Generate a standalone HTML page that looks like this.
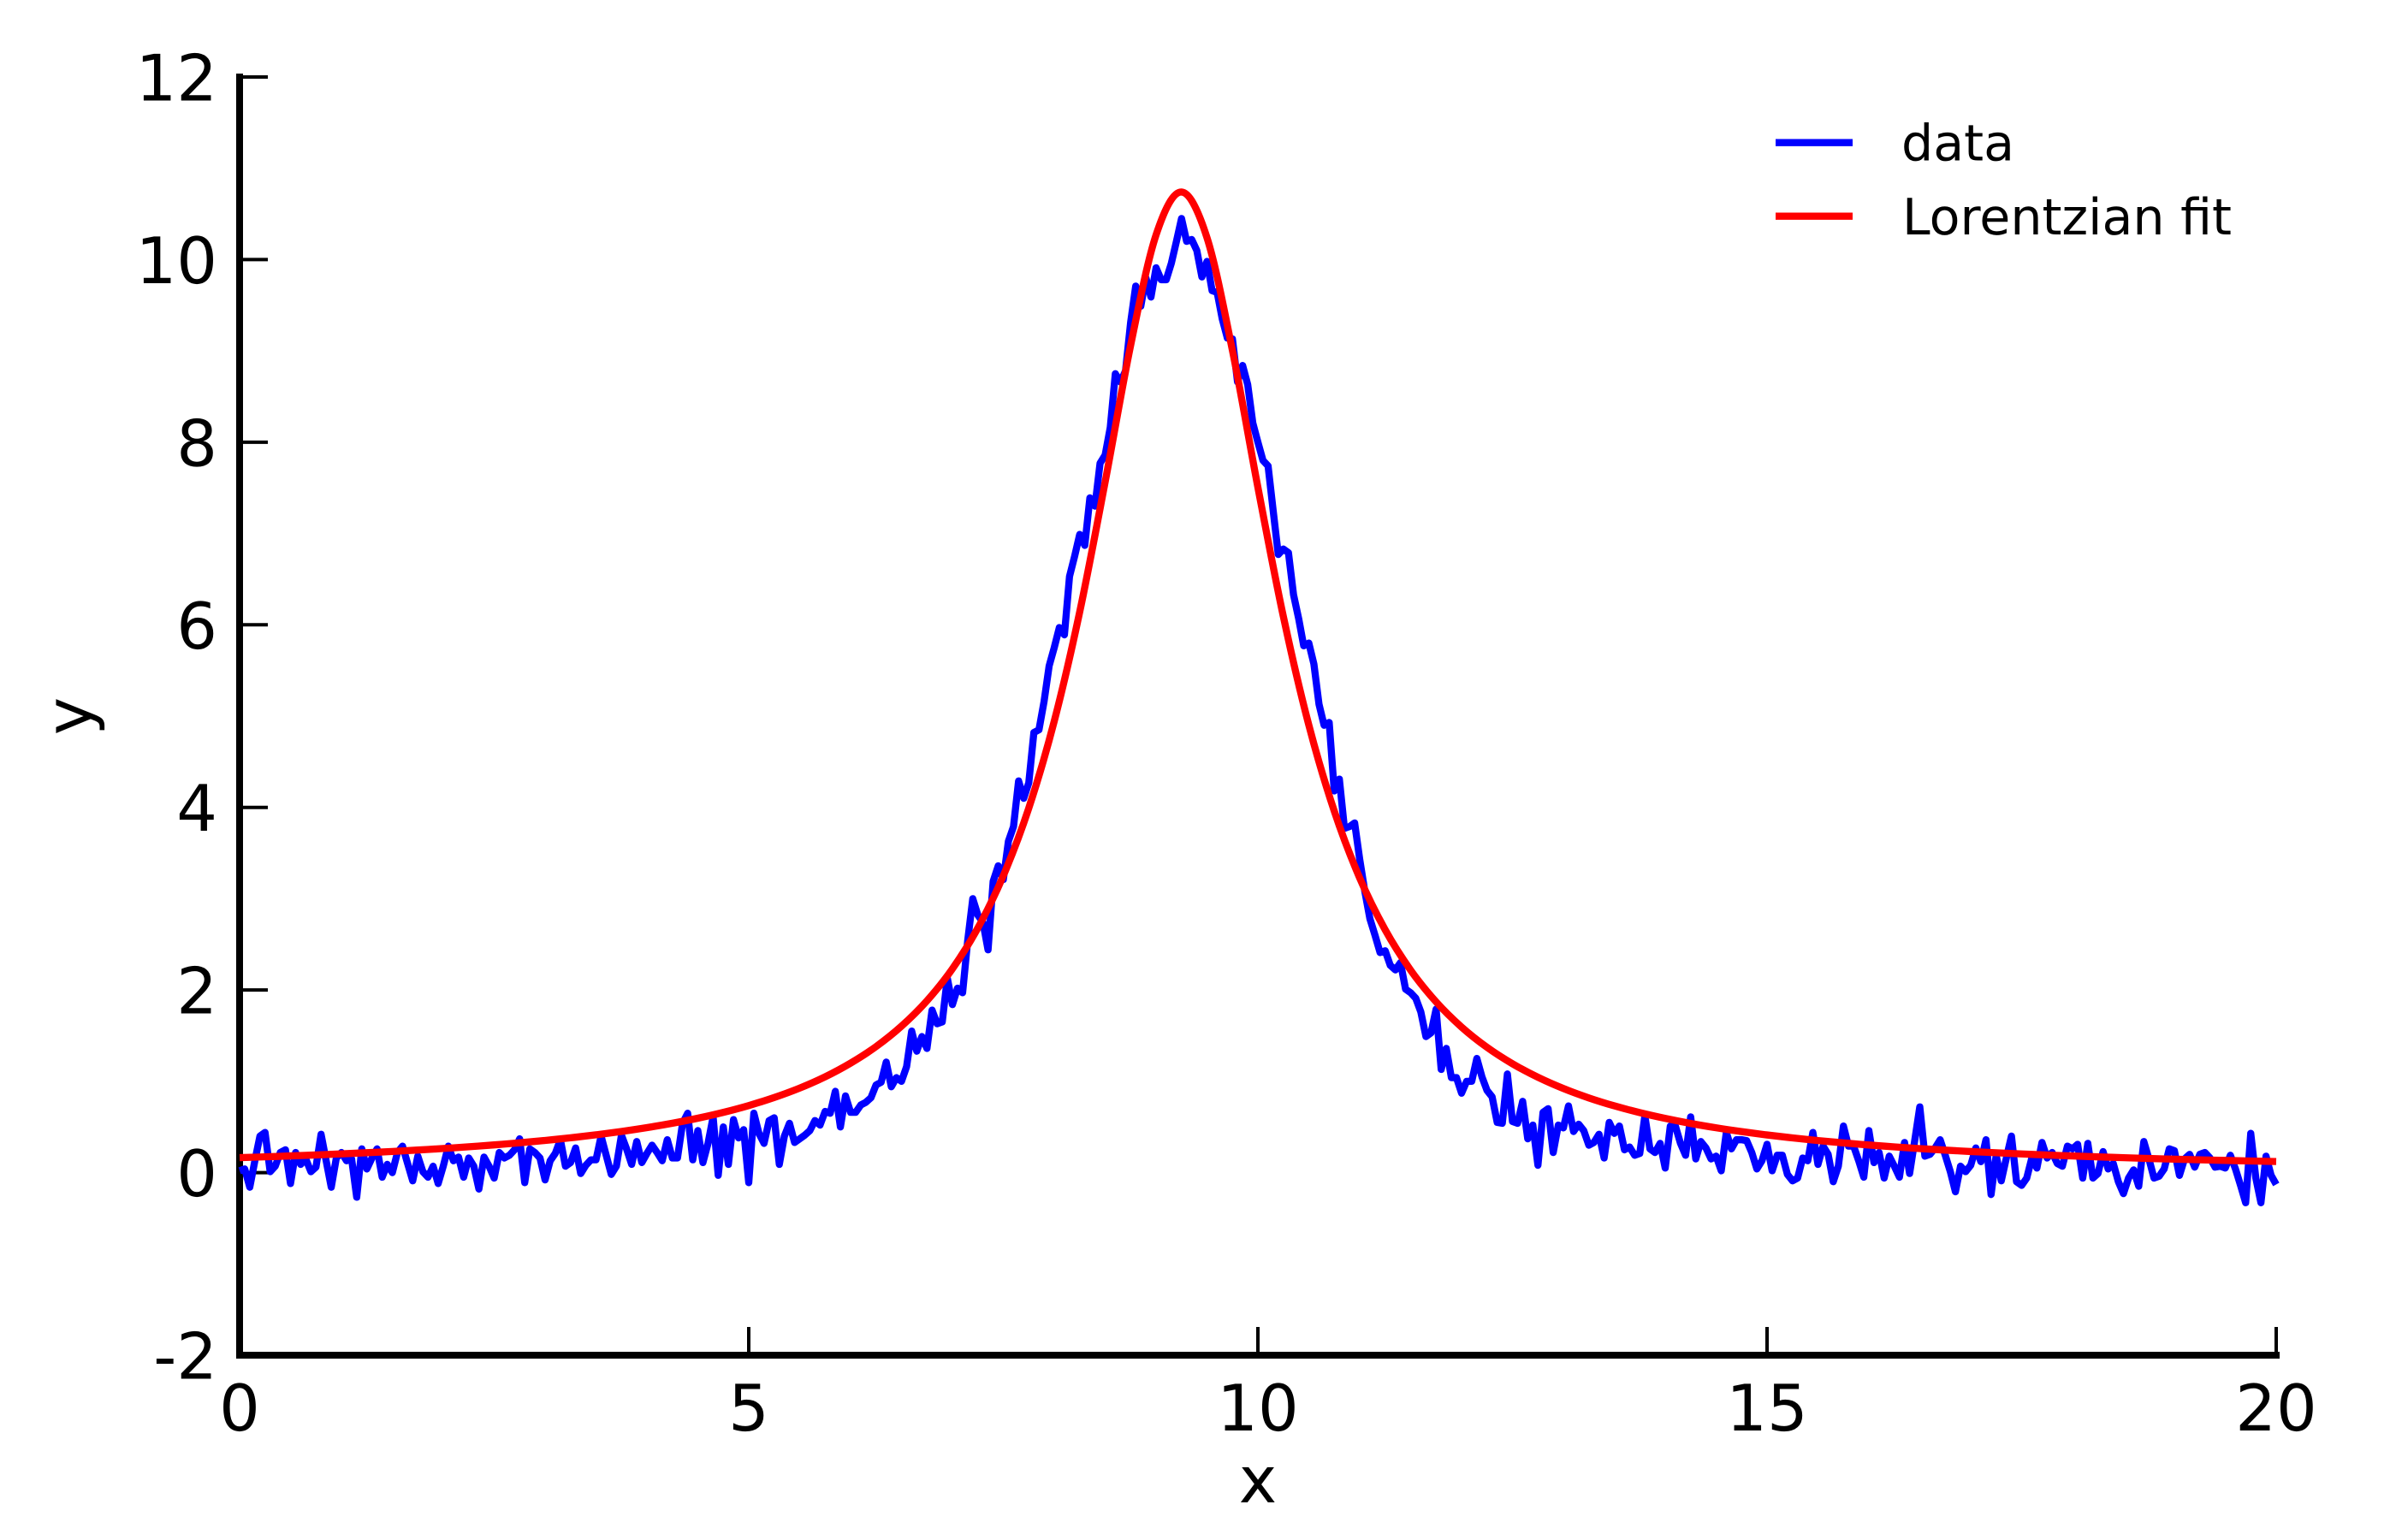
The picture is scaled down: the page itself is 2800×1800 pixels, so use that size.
<!DOCTYPE html>
<html lang="en">
<head>
<meta charset="utf-8">
<title>Lorentzian fit</title>
<style>
  html, body { margin: 0; padding: 0; background: #fff; width: 2800px; height: 1800px; overflow: hidden; }
  svg { display: block; font-family: "DejaVu Sans", "Liberation Sans", sans-serif; text-rendering: geometricPrecision; }
</style>
</head>
<body>
<svg id="chart" xmlns="http://www.w3.org/2000/svg" width="2800" height="1800" viewBox="0 0 2800 1800">
  <rect x="0" y="0" width="2800" height="1800" fill="#ffffff"/>
  <g id="ticks"></g>
  <g id="spines">
    <line x1="280" y1="86" x2="280" y2="1588" stroke="#000" stroke-width="8"/>
    <line x1="276" y1="1584" x2="2664" y2="1584" stroke="#000" stroke-width="8"/>
  </g>
  <path id="data-line" fill="none" stroke="#0000ff" stroke-width="8.33" stroke-linejoin="round" stroke-linecap="butt"/>
  <path id="fit-line" fill="none" stroke="#ff0000" stroke-width="8.33" stroke-linejoin="round" stroke-linecap="butt"/>
  <g id="tick-labels" font-size="75" fill="#000"></g>
  <text x="1470" y="1756" font-size="75" text-anchor="middle" fill="#000">x</text>
  <text transform="translate(106.5,837) rotate(-90)" font-size="75" text-anchor="middle" fill="#000">y</text>
  <g>
    <g>
      <line x1="2075" y1="166.7" x2="2165" y2="166.7" stroke="#0000ff" stroke-width="8.33"/>
      <text x="2222" y="187.7" font-size="58.6" fill="#000">data</text>
    </g>
    <g>
      <line x1="2075" y1="252.7" x2="2165" y2="252.7" stroke="#ff0000" stroke-width="8.33"/>
      <text x="2223" y="274" font-size="58.6" fill="#000">Lorentzian fit</text>
    </g>
  </g>
</svg>
<script>
const xTickValues = [0, 5, 10, 15, 20];
const xTickLabels = ["0", "5", "10", "15", "20"];
const yTickValues = [-2, 0, 2, 4, 6, 8, 10, 12];
const yTickLabels = ["-2", "0", "2", "4", "6", "8", "10", "12"];

const dataStepX = 0.05;
const dataValues = [
  .02,.04,-.16,.13,.40,.44,.01,.07,.22,.25,
  -.12,.22,.09,.15,.01,.06,.42,.13,-.16,.16,
  .22,.13,.15,-.27,.26,.04,.16,.26,-.05,.09,
  0,.22,.29,.10,-.09,.18,.01,-.05,.07,-.12,
  .07,.29,.13,.17,-.05,.16,.07,-.18,.17,.07,
  -.06,.22,.16,.19,.25,.37,-.11,.26,.22,.16,
  -.08,.13,.21,.36,.07,.11,.27,-.01,.08,.14,
  .14,.40,.19,-.02,.07,.41,.26,.09,.34,.11,
  .21,.30,.22,.13,.36,.16,.16,.54,.65,.14,
  .46,.11,.32,.61,-.03,.50,.09,.58,.38,.47,
  -.11,.65,.43,.32,.57,.60,.09,.40,.54,.33,
  .37,.41,.46,.57,.52,.67,.65,.89,.50,.84,
  .66,.66,.74,.77,.82,.96,.99,1.21,.94,1.04,
  1.0,1.16,1.55,1.33,1.49,1.36,1.78,1.63,1.65,2.13,
  1.84,2.02,1.97,2.54,3.0,2.82,2.74,2.44,3.19,3.36,
  3.21,3.63,3.79,4.29,4.10,4.27,4.82,4.85,5.16,5.55,
  5.75,5.97,5.89,6.53,6.75,6.99,6.87,7.39,7.30,7.77,
  7.86,8.16,8.75,8.66,8.78,9.31,9.71,9.49,9.80,9.59,
  9.91,9.78,9.78,9.96,10.2,10.45,10.2,10.22,10.1,9.81,
  9.98,9.66,9.64,9.35,9.14,9.13,8.66,8.84,8.63,8.21,
  8.0,7.80,7.74,7.25,6.77,6.83,6.79,6.33,6.07,5.77,
  5.80,5.57,5.13,4.90,4.93,4.18,4.31,3.77,3.79,3.83,
  3.43,3.08,2.78,2.60,2.41,2.43,2.27,2.22,2.30,2.01,
  1.97,1.91,1.76,1.49,1.53,1.79,1.13,1.36,1.04,1.04,
  .87,1.0,1.0,1.25,1.05,.90,.83,.55,.54,1.08,
  .56,.54,.78,.37,.52,.08,.66,.70,.22,.52,
  .49,.73,.45,.53,.46,.30,.33,.42,.16,.55,
  .43,.51,.25,.28,.19,.21,.62,.26,.22,.32,
  .05,.51,.51,.32,.19,.61,.15,.34,.27,.15,
  .18,.02,.44,.26,.36,.36,.35,.22,.04,.13,
  .31,.02,.19,.19,-.02,-.09,-.06,.16,.13,.44,
  .09,.29,.20,-.10,.07,.51,.29,.29,.13,-.05,
  .46,.11,.22,-.06,.18,.07,-.05,.33,-.01,.35,
  .72,.18,.20,.27,.36,.19,.01,-.21,.07,.01,
  .08,.27,.12,.36,-.24,.19,-.09,.16,.40,-.10,
  -.14,-.06,.16,.05,.33,.16,.22,.10,.07,.29,
  .26,.31,-.06,.32,-.06,-.01,.23,.04,.10,-.10,
  -.23,-.06,.03,-.15,.34,.15,-.06,-.04,.04,.26,
  .24,-.03,.15,.20,.06,.20,.22,.16,.06,.07,
  .05,.19,.04,-.14,-.33,.43,-.06,-.33,.18,-.03,
  -.13
];

const fitStepX = 0.25;
const fitValues = [
  .1637,.1727,.1826,.1933,.2050,.2177,.2317,.2470,.2640,.2827,
  .3034,.3265,.3523,.3812,.4138,.4507,.4927,.5407,.5958,.6597,
  .7344,.8220,.9253,1.049,1.199,1.380,1.604,1.882,2.232,2.679,
  3.252,3.992,4.944,6.141,7.565,9.060,10.27,10.74,10.24,9.004,
  7.505,6.090,4.902,3.959,3.226,2.659,2.217,1.870,1.594,1.372,
  1.192,1.044,.9211,.8182,.7311,.6570,.5936,.5386,.4908,.4491,
  .4124,.3800,.3512,.3255,.3025,.2819,.2632,.2464,.2311,.2172,
  .2045,.1928,.1822,.1724,.1633,.1549,.1472,.1401,.1334,.1272,
  .1214
];

const SVG_NS = "http://www.w3.org/2000/svg";
const plotLeft = 280, plotRight = 2660, plotTop = 90, plotBottom = 1584;
const xMin = 0, xMax = 20, yMin = -2, yMax = 12;

function xScale(v) { return plotLeft + (v - xMin) / (xMax - xMin) * (plotRight - plotLeft); }
function yScale(v) { return plotBottom - (v - yMin) / (yMax - yMin) * (plotBottom - plotTop); }

const ticksGroup = document.getElementById("ticks");
const labelsGroup = document.getElementById("tick-labels");

xTickValues.forEach(function (v, i) {
  const px = xScale(v);
  const t = document.createElementNS(SVG_NS, "line");
  
  
  t.setAttribute("x1", px); t.setAttribute("x2", px);
  t.setAttribute("y1", plotBottom); t.setAttribute("y2", plotBottom - 33);
  t.setAttribute("stroke", "#000"); t.setAttribute("stroke-width", "4");
  ticksGroup.appendChild(t);
  const l = document.createElementNS(SVG_NS, "text");
  
  
  l.setAttribute("x", px); l.setAttribute("y", 1672);
  l.setAttribute("text-anchor", "middle");
  l.textContent = xTickLabels[i];
  labelsGroup.appendChild(l);
});

yTickValues.forEach(function (v, i) {
  const py = yScale(v);
  const t = document.createElementNS(SVG_NS, "line");
  
  
  t.setAttribute("x1", plotLeft); t.setAttribute("x2", plotLeft + 33);
  t.setAttribute("y1", py); t.setAttribute("y2", py);
  t.setAttribute("stroke", "#000"); t.setAttribute("stroke-width", "4");
  ticksGroup.appendChild(t);
  const l = document.createElementNS(SVG_NS, "text");
  
  
  l.setAttribute("x", 254); l.setAttribute("y", py + 27.5);
  l.setAttribute("text-anchor", "end");
  l.textContent = yTickLabels[i];
  labelsGroup.appendChild(l);
});

/* data polyline */
const dataPath = dataValues.map(function (v, i) {
  return (i ? "L" : "M") + xScale(i * dataStepX).toFixed(2) + " " + yScale(v).toFixed(2);
}).join("");
document.getElementById("data-line").setAttribute("d", dataPath);

/* fit curve: smooth Catmull-Rom path through the sampled fit values */
const fitPts = fitValues.map(function (v, i) { return [xScale(i * fitStepX), yScale(v)]; });
let fitPath = "M" + fitPts[0][0].toFixed(2) + " " + fitPts[0][1].toFixed(2);
for (let i = 0; i < fitPts.length - 1; i++) {
  const p0 = fitPts[Math.max(0, i - 1)];
  const p1 = fitPts[i];
  const p2 = fitPts[i + 1];
  const p3 = fitPts[Math.min(fitPts.length - 1, i + 2)];
  const c1x = p1[0] + (p2[0] - p0[0]) / 6, c1y = p1[1] + (p2[1] - p0[1]) / 6;
  const c2x = p2[0] - (p3[0] - p1[0]) / 6, c2y = p2[1] - (p3[1] - p1[1]) / 6;
  fitPath += "C" + c1x.toFixed(2) + " " + c1y.toFixed(2) + " " + c2x.toFixed(2) + " " + c2y.toFixed(2) + " " + p2[0].toFixed(2) + " " + p2[1].toFixed(2);
}
document.getElementById("fit-line").setAttribute("d", fitPath);
</script>
</body>
</html>
